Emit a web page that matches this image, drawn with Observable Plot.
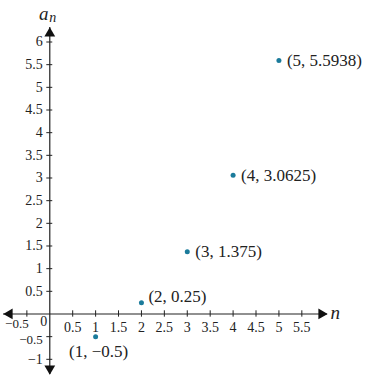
<!DOCTYPE html>
<html>
<head>
<meta charset="utf-8">
<script src="https://cdn.jsdelivr.net/npm/d3@7"></script>
<script src="https://cdn.jsdelivr.net/npm/@observablehq/plot@0.6"></script>
<style>
  html, body { margin: 0; padding: 0; background: #fff; }
  svg text { font-family: 'Liberation Serif', 'Times New Roman', serif; }
</style>
</head>
<body>
<div id="chart"></div>
<script>
// Data
const nValues = [1, 2, 3, 4, 5];
const aValues = [-0.5, 0.25, 1.375, 3.0625, 5.5938];
const pointLabels = ["(1, \u22120.5)", "(2, 0.25)", "(3, 1.375)", "(4, 3.0625)", "(5, 5.5938)"];
const xTicks = [-0.5, 0.5, 1, 1.5, 2, 2.5, 3, 3.5, 4, 4.5, 5, 5.5];
const xTickLabels = ["\u22120.5", "0.5", "1", "1.5", "2", "2.5", "3", "3.5", "4", "4.5", "5", "5.5"];
const yTicks = [-1, -0.5, 0.5, 1, 1.5, 2, 2.5, 3, 3.5, 4, 4.5, 5, 5.5, 6];
const yTickLabels = ["\u22121", "\u22120.5", "0.5", "1", "1.5", "2", "2.5", "3", "3.5", "4", "4.5", "5", "5.5", "6"];
const xDomain = [-1.01, 6.06];
const yDomain = [-1.335, 6.32];

const points = nValues.map((n, i) => ({n, a: aValues[i], label: pointLabels[i]}));
const xt = xTicks.map((v, i) => ({v, label: xTickLabels[i]}));
const yt = yTicks.map((v, i) => ({v, label: yTickLabels[i]}));

const serif = "Liberation Serif";
const teal = "#1b7b9b";
const ink = "#222";

const belowLabels = points.filter(d => d.a < 0);
const upLabels = points.filter(d => d.n === 2);
const rightLabels = points.filter(d => d.a >= 0 && d.n !== 2);

const T = {fontFamily: serif, fill: ink, lineAnchor: "middle"};

const chart = Plot.plot({
  width: 372,
  height: 383,
  marginLeft: 3,
  marginRight: 45,
  marginTop: 27,
  marginBottom: 9,
  x: {domain: xDomain, axis: null},
  y: {domain: yDomain, axis: null},
  style: {background: "#fff", fontFamily: serif},
  marks: [
    // axes lines
    Plot.ruleY([0], {x1: xDomain[0], x2: xDomain[1], stroke: ink, strokeWidth: 1.2}),
    Plot.ruleX([0], {y1: yDomain[0], y2: yDomain[1], stroke: ink, strokeWidth: 1.2}),
    // arrowheads
    Plot.dot([xDomain[1]], {x: d => d, y: 0, symbol: "triangle", r: 4, rotate: 90, dx: -6, fill: "#111", stroke: "none"}),
    Plot.dot([xDomain[0]], {x: d => d, y: 0, symbol: "triangle", r: 4, rotate: 270, dx: 6, fill: "#111", stroke: "none"}),
    Plot.dot([yDomain[1]], {x: 0, y: d => d, symbol: "triangle", r: 4, rotate: 0, dy: 6, fill: "#111", stroke: "none"}),
    Plot.dot([yDomain[0]], {x: 0, y: d => d, symbol: "triangle", r: 4, rotate: 180, dy: -6, fill: "#111", stroke: "none"}),
    // tick marks
    Plot.ruleX(xt, {x: "v", y1: -0.07, y2: 0.07, stroke: ink, strokeWidth: 1}),
    Plot.ruleY(yt, {y: "v", x1: -0.065, x2: 0.065, stroke: ink, strokeWidth: 1}),
    // tick labels
    Plot.text(xt.filter(d => d.v > 0), {...T, x: "v", y: 0, text: "label", dy: 14, fontSize: 14}),
    Plot.text(xt.filter(d => d.v < 0), {...T, x: "v", y: 0, text: "label", dy: 10, dx: -10, fontSize: 13}),
    Plot.text(yt.filter(d => d.v !== -0.5), {...T, x: 0, y: "v", text: "label", dx: -7, textAnchor: "end", fontSize: 14}),
    Plot.text(yt.filter(d => d.v === -0.5), {...T, x: 0, y: "v", text: "label", dx: -7, dy: 3, textAnchor: "end", fontSize: 13}),
    Plot.text(["0"], {...T, x: 0, y: 0, text: d => d, dx: -6, dy: 8, fontSize: 14}),
    // axis titles
    Plot.text(["a"], {...T, x: 0, y: yDomain[1], text: d => d, dx: -6, dy: -14, fontSize: 19, fontStyle: "italic"}),
    Plot.text(["n"], {...T, x: 0, y: yDomain[1], text: d => d, dx: 3, dy: -10, fontSize: 14, fontStyle: "italic"}),
    Plot.text(["n"], {...T, x: xDomain[1], y: 0, text: d => d, dx: 3, dy: -1, fontSize: 19, fontStyle: "italic", textAnchor: "start"}),
    // points
    Plot.dot(points, {x: "n", y: "a", r: 2.5, fill: teal, stroke: "none"}),
    // point labels
    Plot.text(belowLabels, {...T, x: "n", y: "a", text: "label", dx: 3, dy: 15, fontSize: 17}),
    Plot.text(upLabels, {...T, x: "n", y: "a", text: "label", dx: 7, dy: -6, fontSize: 17, textAnchor: "start"}),
    Plot.text(rightLabels, {...T, x: "n", y: "a", text: "label", dx: 8, dy: 0, fontSize: 17, textAnchor: "start"})
  ]
});
document.getElementById("chart").appendChild(chart);
</script>
</body>
</html>
